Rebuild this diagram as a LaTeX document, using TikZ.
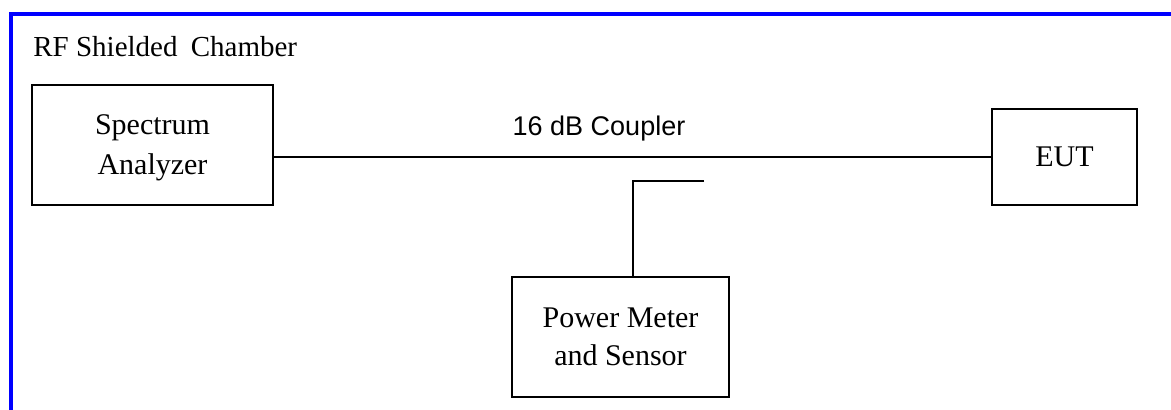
\documentclass[tikz,border=0pt]{standalone}
\usepackage{fontspec}
\setmainfont{Liberation Serif}
\newfontfamily\couplerfont{Liberation Sans}
\usepackage{tikz}
\usetikzlibrary{positioning}

\tikzset{
  unit/.style = {draw, line width = 0.9pt, align = center, inner sep = 0pt,
                 font = \fontsize{15}{20}\selectfont},
  wire/.style = {line width = 0.9pt},
  chamber/.style = {draw = blue, line width = 2pt}
}

\begin{document}
\begin{tikzpicture}[x = 0.5pt, y = -0.5pt]
        \useasboundingbox (0, 0) rectangle (1171, 410);

        \draw [chamber] (1175, 14) -- (11, 14) -- (11, 414);
        \node [anchor = base west, inner sep = 0pt, font = \fontsize{14.5}{18}\selectfont]
          (title) at (33, 57) {RF Shielded\hspace{3pt} Chamber};

        \node [unit, minimum width = 120.5pt, minimum height = 60pt, text depth = -3pt]
          (sa) at (152.5, 145) {Spectrum\\Analyzer};
        \node [unit, minimum width = 72.5pt, minimum height = 48pt] (eut) at (1064.5, 157)
          {EUT};
        \node [unit, minimum width = 108.5pt, minimum height = 60pt, text depth = -4pt,
               font = \fontsize{15}{19}\selectfont] (pm) at (620.5, 337)
          {Power Meter\\and Sensor};

        \draw [wire] (sa.east |- eut.west) -- (eut.west);
        \node [anchor = base, inner sep = 0pt, font = \couplerfont\fontsize{13.5}{16}\selectfont]
          (cpl) at (599, 136) {16 dB Coupler};

        \coordinate (tap) at (704, 181);
        \coordinate (knee) at (633, 181);
        \draw [wire] (tap) -- (knee) -- (knee |- pm.north);
\end{tikzpicture}
\end{document}
